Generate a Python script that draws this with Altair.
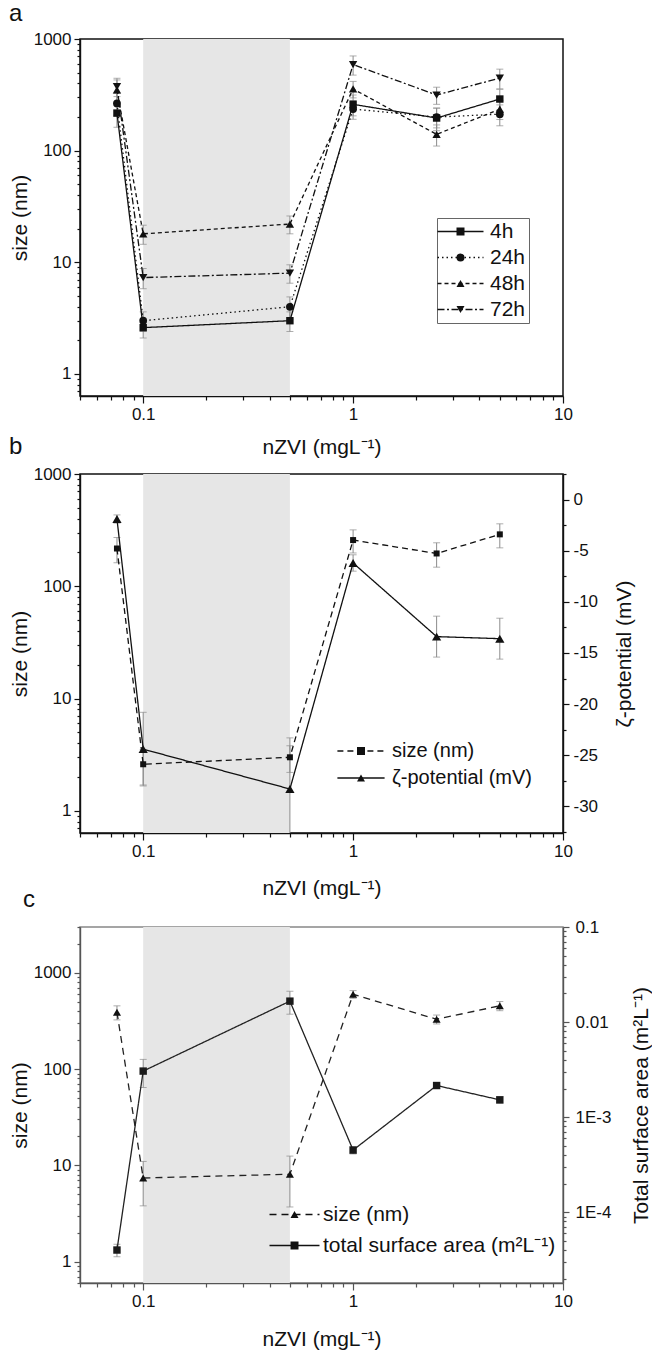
import altair as alt
import pandas as pd

FONT = "Liberation Sans"
INK = "#111111"
ERR = "#8c8c8c"
SHADE_COLOR = "#e6e6e6"

# ---------------- shared x ----------------
X = [0.075, 0.1, 0.5, 1, 2.5, 5]
SHADE_FROM = [0.1]
SHADE_TO = [0.5]
X_DOMAIN = [0.05, 10]
X_TICKS = [0.05, 0.06, 0.07, 0.08, 0.09, 0.1, 0.2, 0.3, 0.4, 0.5, 0.6, 0.7, 0.8, 0.9,
           1, 2, 3, 4, 5, 6, 7, 8, 9, 10]
X_TITLE = "nZVI (mgL\u207b\u00b9)"

# ---------------- panel a ----------------
A_NAMES = ["4h", "24h", "48h", "72h"]
A_4H = [217, 2.6, 3.0, 260, 196, 290]
A_4H_ERR = [55, 0.5, 0.6, 55, 45, 65]
A_24H = [265, 3.0, 4.0, 236, 200, 212]
A_24H_ERR = [60, 0.6, 0.9, 45, 40, 45]
A_48H = [350, 18, 22, 357, 140, 235]
A_48H_ERR = [80, 3.5, 4.0, 60, 30, 45]
A_72H = [375, 7.3, 8.0, 590, 315, 447]
A_72H_ERR = [70, 1.5, 1.5, 115, 55, 90]
A_Y_DOMAIN = [0.635, 1000]
A_Y_TICKS = [0.7, 0.8, 0.9, 1, 2, 3, 4, 5, 6, 7, 8, 9, 10, 20, 30, 40, 50, 60, 70, 80, 90,
             100, 200, 300, 400, 500, 600, 700, 800, 900, 1000]

# ---------------- panel b ----------------
B_NAMES = ["size (nm)", "\u03b6-potential (mV)"]
B_SIZE = [217, 2.6, 3.0, 258, 196, 290]
B_SIZE_ERR = [55, 0.9, 0.8, 60, 48, 70]
B_ZETA = [-1.9, -24.4, -28.3, -6.2, -13.4, -13.6]
B_ZETA_ERR = [0.4, 3.6, 5.0, 0.8, 2.0, 2.0]
B_Y_DOMAIN = [0.635, 1000]
B_Z_DOMAIN = [-32.6, 2.5]
B_Z_TICKS = [-32.5, -30, -27.5, -25, -22.5, -20, -17.5, -15, -12.5, -10, -7.5, -5, -2.5, 0, 2.5]

# ---------------- panel c ----------------
C_NAMES = ["size (nm)", "total surface area (m\u00b2L\u207b\u00b9)"]
C_SIZE = [390, 7.4, 8.1, 600, 330, 455]
C_SIZE_ERR = [65, 3.6, 4.4, 55, 35, 50]
C_AREA = [4.0e-5, 3.05e-3, 0.0166, 4.5e-4, 2.15e-3, 1.52e-3]
C_AREA_ERR = [0.6e-5, 1.0e-3, 0.0045, 0.4e-4, 0.15e-3, 0.12e-3]
C_Y_DOMAIN = [0.6, 3000]
C_Y_TICKS = [0.6, 0.7, 0.8, 0.9, 1, 2, 3, 4, 5, 6, 7, 8, 9, 10, 20, 30, 40, 50, 60, 70, 80, 90,
             100, 200, 300, 400, 500, 600, 700, 800, 900, 1000, 2000, 3000]
C_A_DOMAIN = [1.8e-5, 0.1]
C_A_TICKS = [2e-5, 3e-5, 4e-5, 5e-5, 6e-5, 7e-5, 8e-5, 9e-5, 1e-4, 2e-4, 3e-4, 4e-4, 5e-4, 6e-4,
             7e-4, 8e-4, 9e-4, 1e-3, 2e-3, 3e-3, 4e-3, 5e-3, 6e-3, 7e-3, 8e-3, 9e-3, 0.01, 0.02,
             0.03, 0.04, 0.05, 0.06, 0.07, 0.08, 0.09, 0.1]

W = 483
MAJOR_LOG = "abs(log(datum.value)/LN10 - round(log(datum.value)/LN10)) < 0.001"


def make_df(values, errs):
    df = pd.DataFrame({"x": X, "y": values, "err": errs})
    df["lo"] = df["y"] - df["err"]
    df["hi"] = df["y"] + df["err"]
    return df


def axis(color=INK, **kw):
    base = dict(grid=False, labelFont=FONT, titleFont=FONT, labelFontSize=17,
                titleFontSize=21, titleFontWeight="normal", labelColor=INK, titleColor=INK,
                domainColor=color, tickColor=color, domainWidth=1.4, tickWidth=1.2,
                labelOverlap=False, labelFlush=False)
    base.update(kw)
    return alt.Axis(**base)


def x_axis(title_y, color=INK):
    return axis(color=color, orient="bottom", values=X_TICKS, title=X_TITLE,
                labelExpr=f"({MAJOR_LOG}) ? format(datum.value, '~g') : ''",
                tickSize={"condition": {"test": MAJOR_LOG, "value": 7}, "value": 4},
                labelPadding=3, titleY=title_y, titleBaseline="middle")


def ylog_axis(ticks, color=INK):
    return axis(color=color, orient="left", values=ticks, title="size (nm)",
                labelExpr=f"({MAJOR_LOG}) ? format(datum.value, 'd') : ''",
                tickSize={"condition": {"test": MAJOR_LOG, "value": 6}, "value": 3},
                labelPadding=3, titleAngle=270, titleX=-60, titleBaseline="middle")


def xenc(field="x", ax=None):
    return alt.X(f"{field}:Q", scale=alt.Scale(type="log", domain=X_DOMAIN), axis=ax)


def yenc(field, scale, ax=None):
    return alt.Y(f"{field}:Q", scale=scale, axis=ax)


def shade():
    df = pd.DataFrame({"x0": SHADE_FROM, "x1": SHADE_TO})
    return alt.Chart(df).mark_rect(color=SHADE_COLOR).encode(
        x=xenc("x0"), x2=alt.X2("x1:Q"))


def errbars(df, scale):
    rule = alt.Chart(df).mark_rule(color=ERR, strokeWidth=1, clip=True).encode(
        x=xenc(), y=yenc("lo", scale), y2=alt.Y2("hi:Q"))
    caps = alt.Chart(df).transform_fold(["lo", "hi"], as_=["k", "v"]).mark_tick(
        color=ERR, orient="horizontal", size=7, thickness=1, clip=True).encode(
        x=xenc(), y=yenc("v", scale))
    return [rule, caps]


def line(df, scale, dash, color=INK, xax=None, yax=None):
    return alt.Chart(df).mark_line(color=color, strokeWidth=1.3, strokeDash=dash,
                                   clip=True).encode(x=xenc(ax=xax), y=yenc("y", scale, yax))


def points(df, scale, shape, size, color=INK):
    return alt.Chart(df).mark_point(shape=shape, filled=True, size=size, color=color,
                                    opacity=1, clip=True).encode(x=xenc(), y=yenc("y", scale))


def legend_layers(names, shapes, dashes, half, lx, ly, fsize, rowpad, symoff, laboff, pad,
                  box=None):
    common = dict(title=None, orient="none", legendX=lx, legendY=ly, labelFont=FONT,
                  labelFontSize=fsize, symbolSize=64, symbolStrokeWidth=1.3,
                  symbolOffset=symoff, labelOffset=laboff, rowPadding=rowpad, padding=pad,
                  labelLimit=500)
    line_names = [n + " " for n in names]
    box_kw = {"strokeColor": box} if box else {}
    leg_l = alt.Legend(symbolType=f"M-{half},0H{half}", labelColor="transparent",
                       symbolStrokeColor=INK, **common, **box_kw)
    leg_m = alt.Legend(labelColor=INK, symbolFillColor=INK, **common)
    lines_l = alt.Chart(pd.DataFrame({"series": line_names})).transform_filter(
        "false").mark_line(color=INK, strokeWidth=1.3).encode(
        strokeDash=alt.StrokeDash("series:N",
                                  scale=alt.Scale(domain=line_names, range=dashes),
                                  legend=leg_l))
    marks_m = alt.Chart(pd.DataFrame({"series": names})).transform_filter(
        "false").mark_point(filled=True, color=INK, opacity=1).encode(
        shape=alt.Shape("series:N", scale=alt.Scale(domain=names, range=shapes),
                        legend=leg_m))
    return [lines_l, marks_m]


def title(letter, dx, offset=-13):
    return alt.TitleParams(text=letter, anchor="start", dx=dx, fontSize=24, font=FONT,
                           fontWeight="normal", color=INK, offset=offset,
                           baseline="alphabetic", frame="group")


def finish(layers):
    return alt.layer(*layers).resolve_scale(
        y="independent", shape="independent", strokeDash="independent").resolve_axis(
        x="independent", y="independent")


# ---------------- build panel a ----------------
ys_a = alt.Scale(type="log", domain=A_Y_DOMAIN)
a_vals = [A_4H, A_24H, A_48H, A_72H]
a_errs = [A_4H_ERR, A_24H_ERR, A_48H_ERR, A_72H_ERR]
a_dash = [[1, 0], [1.5, 3], [4, 3], [7, 2.5, 2, 2.5]]
a_shape = ["square", "circle", "triangle-up", "triangle-down"]
a_size = [55, 60, 70, 70]

layers_a = [shade()]
dfs_a = [make_df(v, e) for v, e in zip(a_vals, a_errs)]
for d in dfs_a:
    layers_a += errbars(d, ys_a)
for i, d in enumerate(dfs_a):
    layers_a.append(line(d, ys_a, a_dash[i],
                         xax=x_axis(51) if i == 0 else None,
                         yax=ylog_axis(A_Y_TICKS) if i == 0 else None))
for i, d in enumerate(dfs_a):
    layers_a.append(points(d, ys_a, a_shape[i], a_size[i]))
layers_a += legend_layers(A_NAMES, a_shape, a_dash, 5.75, 357, 179, 21, 4, 10, 19, 3,
                          box="#666666")

panel_a = finish(layers_a).properties(
    width=W, height=357, title=title("a", -71, offset=-15),
    view=alt.ViewBackground(stroke=INK, strokeWidth=1.5))

# ---------------- build panel b ----------------
ys_b = alt.Scale(type="log", domain=B_Y_DOMAIN)
zs_b = alt.Scale(type="linear", domain=B_Z_DOMAIN, nice=False, zero=False)
df_bs = make_df(B_SIZE, B_SIZE_ERR)
df_bz = make_df(B_ZETA, B_ZETA_ERR)
z_axis = axis(orient="right", values=B_Z_TICKS, title="\u03b6-potential (mV)",
              labelExpr="datum.value % 5 == 0 ? '' + datum.value : ''",
              tickSize={"condition": {"test": "datum.value % 5 == 0", "value": 6}, "value": 3},
              labelPadding=4, titleAngle=270, titleX=61, titleBaseline="middle")
b_dash = [[6, 4], [1, 0]]
layers_b = [shade()]
layers_b += errbars(df_bs, ys_b)
layers_b += errbars(df_bz, zs_b)
layers_b.append(line(df_bs, ys_b, b_dash[0], xax=x_axis(55), yax=ylog_axis(A_Y_TICKS)))
layers_b.append(line(df_bz, zs_b, b_dash[1], yax=z_axis))
layers_b.append(points(df_bs, ys_b, "square", 36))
layers_b.append(points(df_bz, zs_b, "triangle-up", 85))
layers_b += legend_layers(B_NAMES, ["square", "triangle-up"], b_dash, 5.9, 271, 267, 20, 7,
                          0, 21, 0)

panel_b = finish(layers_b).properties(
    width=W, height=359, title=title("b", -71),
    view=alt.ViewBackground(stroke=INK, strokeWidth=1.5))

# ---------------- build panel c ----------------
CAX = "#555555"
ys_c = alt.Scale(type="log", domain=C_Y_DOMAIN)
as_c = alt.Scale(type="log", domain=C_A_DOMAIN)
df_cs = make_df(C_SIZE, C_SIZE_ERR)
df_ca = make_df(C_AREA, C_AREA_ERR)
a_axis = axis(color=CAX, orient="right", values=C_A_TICKS,
              title="Total surface area (m\u00b2L\u207b\u00b9)",
              labelExpr=(f"({MAJOR_LOG}) ? (datum.value > 0.005 ? format(datum.value, '~g') : "
                         "(datum.value > 0.0005 ? '1E-3' : '1E-4')) : ''"),
              tickSize={"condition": {"test": MAJOR_LOG, "value": 6}, "value": 3},
              labelPadding=6, titleAngle=270, titleX=78, titleBaseline="middle")
c_dash = [[7, 5], [1, 0]]
layers_c = [shade()]
layers_c += errbars(df_cs, ys_c)
layers_c += errbars(df_ca, as_c)
layers_c.append(line(df_cs, ys_c, c_dash[0], color="#222222",
                     xax=x_axis(56, CAX), yax=ylog_axis(C_Y_TICKS, CAX)))
layers_c.append(line(df_ca, as_c, c_dash[1], color="#222222", yax=a_axis))
layers_c.append(points(df_cs, ys_c, "triangle-up", 65))
layers_c.append(points(df_ca, as_c, "square", 55, color="#1a1a1a"))
layers_c += legend_layers(C_NAMES, ["triangle-up", "square"], c_dash, 6.25, 204, 277, 21, 9,
                          0, 18, 0)

panel_c = finish(layers_c).properties(
    width=W, height=356, title=title("c", -57),
    view=alt.ViewBackground(stroke="#888888", strokeWidth=1.5))

inner = alt.vconcat(panel_a, panel_b, spacing=-24).resolve_scale(
    shape="independent", strokeDash="independent").resolve_legend(
    shape="independent", strokeDash="independent")
chart = alt.vconcat(inner, panel_c, spacing=-12).resolve_scale(
    shape="independent", strokeDash="independent").resolve_legend(
    shape="independent", strokeDash="independent").properties(
    padding={"left": 0, "right": 0, "top": -7, "bottom": 0}).configure(font=FONT)

chart.save("out.html", embed_options={"renderer": "svg", "actions": False})
